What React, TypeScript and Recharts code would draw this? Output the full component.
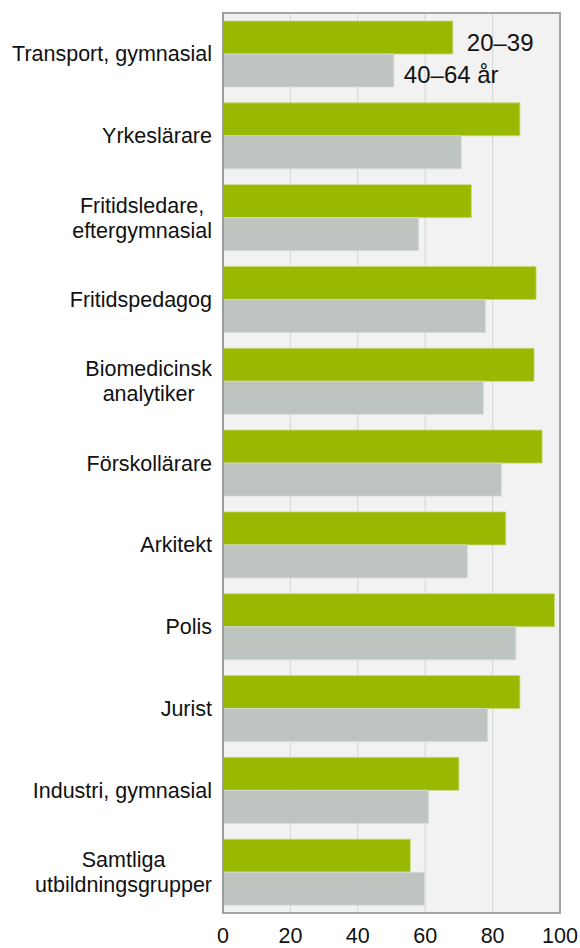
import React from 'react';
import {
  BarChart,
  Bar,
  XAxis,
  YAxis,
  CartesianGrid,
  ReferenceArea,
  LabelList,
} from 'recharts';

const categories = [
  'Transport, gymnasial',
  'Yrkeslärare',
  'Fritidsledare,\neftergymnasial',
  'Fritidspedagog',
  'Biomedicinsk\nanalytiker',
  'Förskollärare',
  'Arkitekt',
  'Polis',
  'Jurist',
  'Industri, gymnasial',
  'Samtliga\nutbildningsgrupper',
];
const young = [68.2, 88.1, 73.7, 92.9, 92.3, 94.7, 83.9, 98.4, 88.1, 70.0, 55.6];
const older = [50.7, 70.7, 58.0, 77.9, 77.3, 82.6, 72.5, 86.9, 78.5, 61.0, 59.8];
const seriesNames = ['20–39', '40–64 år'];
const xTicks = [0, 20, 40, 60, 80, 100];

const data = categories.map((c, i) => ({ name: c, young: young[i], older: older[i] }));

const FONT = "'Liberation Sans', Arial, sans-serif";
const LABEL_SIZE = 21.5;

let ctx: CanvasRenderingContext2D | null = null;
function measure(t: string): number {
  if (!ctx) {
    const c = document.createElement('canvas');
    ctx = c.getContext('2d');
  }
  if (!ctx) return t.length * LABEL_SIZE * 0.5;
  ctx.font = `${LABEL_SIZE}px ${FONT}`;
  return ctx.measureText(t).width;
}

const CategoryTick = (props: any) => {
  const { x, y, payload } = props;
  const lines: string[] = String(payload.value).split('\n');
  if (lines.length === 1) {
    return (
      <text x={x} y={y} dy={7.5} textAnchor="end" fontSize={LABEL_SIZE} fontFamily={FONT} fill="#111">
        {lines[0]}
      </text>
    );
  }
  const maxW = Math.max(...lines.map(measure));
  const cx = x - maxW / 2;
  const lh = 25;
  const start = y - ((lines.length - 1) * lh) / 2 + 7.5;
  return (
    <g>
      {lines.map((l, i) => (
        <text key={i} x={cx} y={start + i * lh} textAnchor="middle" fontSize={LABEL_SIZE} fontFamily={FONT} fill="#111">
          {l}
        </text>
      ))}
    </g>
  );
};

const ValueTick = (props: any) => {
  const { x, y, payload } = props;
  return (
    <text x={x} y={y + 30} textAnchor="middle" fontSize={LABEL_SIZE} fontFamily={FONT} fill="#111">
      {payload.value}
    </text>
  );
};

const makeSeriesLabel = (name: string, dx: number, dy: number) => (props: any) => {
  const { x, y, width, height, index } = props;
  if (index !== 0) return null;
  return (
    <text x={x + width + dx} y={y + height / 2 + dy} fontSize={24} fontFamily={FONT} fill="#111">
      {name}
    </text>
  );
};

export default function App() {
  return (
    <div style={{ position: 'absolute', left: 0, top: 0, width: 580, height: 948, background: '#fff' }}>
      <BarChart
        width={580}
        height={948}
        data={data}
        layout="vertical"
        margin={{ top: 13, right: 20, bottom: 0, left: 0 }}
        barCategoryGap={8}
        barGap={0}
      >
        <CartesianGrid horizontal={false} vertical stroke="#d9d9d9" fill="#f2f2f2" strokeWidth={1.2} />
        <XAxis
          type="number"
          domain={[0, 100]}
          ticks={xTicks}
          height={35}
          tickLine={false}
          tickSize={0}
          tickMargin={0}
          axisLine={{ stroke: '#a3a3a3', strokeWidth: 2 }}
          tick={<ValueTick />}
          interval={0}
        />
        <YAxis
          type="category"
          dataKey="name"
          width={223}
          tickLine={false}
          tickSize={0}
          tickMargin={11}
          axisLine={{ stroke: '#9a9a9a', strokeWidth: 2 }}
          tick={<CategoryTick />}
          interval={0}
        />
        <Bar dataKey="young" name={seriesNames[0]} fill="#99b800" stroke="#c8da7e" strokeWidth={0.8} isAnimationActive={false}>
          <LabelList dataKey="young" content={makeSeriesLabel(seriesNames[0], 14, 13.5)} />
        </Bar>
        <Bar dataKey="older" name={seriesNames[1]} fill="#bec4c0" stroke="#d8dbd8" strokeWidth={0.8} isAnimationActive={false}>
          <LabelList dataKey="older" content={makeSeriesLabel(seriesNames[1], 10, 12.5)} />
        </Bar>
        <ReferenceArea x1={0} x2={100} fill="none" stroke="#a3a3a3" strokeWidth={2} ifOverflow="visible" />
      </BarChart>
    </div>
  );
}
